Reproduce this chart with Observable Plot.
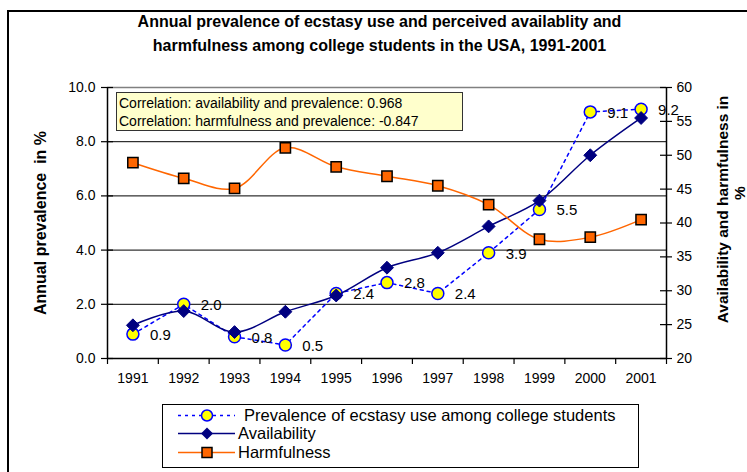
<!DOCTYPE html>
<html><head><meta charset="utf-8">
<script src="https://cdn.jsdelivr.net/npm/d3@7"></script>
<script src="https://cdn.jsdelivr.net/npm/@observablehq/plot@0.6"></script>
<style>
body{margin:0;background:#fff;font-family:"Liberation Sans",Arial,sans-serif;}
#wrap{position:relative;width:747px;height:472px;overflow:hidden;background:#fff;}
#frame{position:absolute;left:7px;top:10px;width:780px;height:520px;border:2px solid #000;box-sizing:border-box;}
#title{position:absolute;left:0;top:10px;width:759px;text-align:center;font-weight:bold;font-size:16px;line-height:24px;color:#000;}
#chart{position:absolute;left:0;top:0;}
#corr{position:absolute;left:116px;top:92px;width:347px;height:39px;box-sizing:border-box;background:#ffffcc;border:1px solid #333;font-size:14px;line-height:18px;padding:1px 0 0 2px;color:#000;white-space:nowrap;}
#legend{position:absolute;left:162px;top:404px;width:477px;height:64px;box-sizing:border-box;border:1.5px solid #000;background:#fff;}
</style></head>
<body>
<div id="wrap">
  <div id="frame"></div>
  <div id="chart"></div>
  <div id="title">Annual prevalence of ecstasy use and perceived availablity and<br>harmfulness among college students in the USA, 1991-2001</div>
  <div id="corr">Correlation: availability and prevalence: 0.968<br>Correlation: harmfulness and prevalence: -0.847</div>
  <div id="legend"></div>
</div>
<script>
const years = [1991,1992,1993,1994,1995,1996,1997,1998,1999,2000,2001];
const prevalence = [0.9,2.0,0.8,0.5,2.4,2.8,2.4,3.9,5.5,9.1,9.2];
const availability = [24.9,27.0,23.9,26.9,29.3,33.4,35.6,39.5,43.3,50.0,55.5];
const harmfulness = [48.9,46.6,45.1,51.1,48.3,46.9,45.5,42.7,37.6,37.9,40.5];
const leftTicks = [0,2,4,6,8,10];
const rightTicks = [20,25,30,35,40,45,50,55,60];
const gridLines = [2,4,6,8];
const seriesNames = ["Prevalence of ecstasy use among college students","Availability","Harmfulness"];

const toY = v => (v - 20) / 4;
const fromY = y => y * 4 + 20;
const rows = years.map((yr, i) => ({year: yr, prev: prevalence[i], avail: toY(availability[i]), harm: toY(harmfulness[i])}));
const edges = d3.range(years[0] - 0.5, years[years.length - 1] + 1, 1);

const W = 747, H = 472, mL = 107, mR = 81, mT = 87, mB = 114;
const pw = W - mL - mR, ph = H - mT - mB;
const font = '"Liberation Sans", Arial, sans-serif';

const plot = Plot.plot({
  width: W, height: H,
  marginLeft: mL, marginRight: mR, marginTop: mT, marginBottom: mB,
  style: {fontFamily: font, fontSize: "14px", color: "#000", background: "transparent", overflow: "visible"},
  x: {type: "linear", domain: [years[0] - 0.5, years[years.length - 1] + 0.5]},
  y: {domain: [0, 10]},
  marks: [
    Plot.ruleY(gridLines, {stroke: "#000", strokeWidth: 1}),
    Plot.ruleY([10], {stroke: "#808080", strokeWidth: 1.5}),
    Plot.ruleY([0], {stroke: "#000", strokeWidth: 1.5}),
    Plot.ruleX([edges[0], edges[edges.length - 1]], {stroke: "#000", strokeWidth: 1.5}),
    Plot.tickY(leftTicks, {y: d => d, insetLeft: -6, insetRight: pw - 6, stroke: "#000", strokeWidth: 1.2}),
    Plot.tickY(rightTicks.map(toY), {y: d => d, insetLeft: pw - 6, insetRight: -6, stroke: "#000", strokeWidth: 1.2}),
    Plot.tickX(edges, {x: d => d, insetTop: ph, insetBottom: -6, stroke: "#000", strokeWidth: 1.2}),
    Plot.axisX({ticks: years, tickSize: 0, tickPadding: 15, tickFormat: d => String(d), fontSize: "14px", label: null}),
    Plot.axisY({ticks: leftTicks, tickSize: 0, tickPadding: 12, tickFormat: d => d.toFixed(1), fontSize: "14px", label: null}),
    Plot.axisY({anchor: "right", ticks: rightTicks.map(toY), tickSize: 0, tickPadding: 10, tickFormat: d => String(Math.round(fromY(d))), fontSize: "14px", label: null}),
    Plot.text(["Annual prevalence  in %"], {frameAnchor: "left", textAnchor: "middle", dx: -67, rotate: -90, fontWeight: "bold", fontSize: 16}),
    Plot.text(["Availability and harmfulness in"], {frameAnchor: "right", textAnchor: "middle", dx: 57, dy: -13.5, rotate: -90, fontWeight: "bold", fontSize: 15.5}),
    Plot.text(["%"], {frameAnchor: "right", textAnchor: "middle", dx: 74, dy: -30, rotate: -90, fontWeight: "bold", fontSize: 15.5}),
    Plot.line(rows, {x: "year", y: "prev", stroke: "#0000ff", strokeWidth: 1.5, strokeDasharray: "3,4"}),
    Plot.dot(rows, {x: "year", y: "prev", r: 6, fill: "#ffff00", stroke: "#0000ff", strokeWidth: 1.5}),
    Plot.text(rows, {x: "year", y: "prev", text: d => d.prev.toFixed(1), dx: 17, dy: 1, textAnchor: "start", fontSize: 15, fill: "#000"}),
    Plot.line(rows, {x: "year", y: "avail", stroke: "#000080", strokeWidth: 1.5, curve: "catmull-rom"}),
    Plot.dot(rows, {x: "year", y: "avail", symbol: "diamond2", r: 5.8, fill: "#000080", stroke: "#000080", strokeWidth: 1}),
    Plot.line(rows, {x: "year", y: "harm", stroke: "#ff6600", strokeWidth: 1.5, curve: "catmull-rom"}),
    Plot.dot(rows, {x: "year", y: "harm", symbol: "square", r: 5.8, fill: "#ff6600", stroke: "#000", strokeWidth: 1.5})
  ]
});
document.getElementById("chart").appendChild(plot);

// legend
const lg = d3.select("#legend").append("svg").attr("width", 474).attr("height", 61).style("position", "absolute").style("left", "0").style("top", "0");
const rowsY = [10.5, 28.5, 47.5];
const colors = ["#0000ff", "#000080", "#ff6600"];
seriesNames.forEach((name, i) => {
  const y = rowsY[i];
  lg.append("line").attr("x1", 15).attr("x2", 72).attr("y1", y).attr("y2", y)
    .attr("stroke", colors[i]).attr("stroke-width", 1.5).attr("stroke-dasharray", i === 0 ? "3,4" : null);
  if (i === 0) lg.append("circle").attr("cx", 44).attr("cy", y).attr("r", 5.5).attr("fill", "#ffff00").attr("stroke", "#0000ff").attr("stroke-width", 1.5);
  if (i === 1) lg.append("path").attr("d", `M44,${y-6}L50,${y}L44,${y+6}L38,${y}Z`).attr("fill", "#000080");
  if (i === 2) lg.append("rect").attr("x", 39).attr("y", y - 5).attr("width", 10).attr("height", 10).attr("fill", "#ff6600").attr("stroke", "#000").attr("stroke-width", 1.5);
  lg.append("text").attr("x", i === 0 ? 81 : 75).attr("y", y).attr("dy", "0.36em")
    .attr("font-family", font).attr("font-size", "16.5px").attr("fill", "#000").text(name);
});
</script>
</body></html>
